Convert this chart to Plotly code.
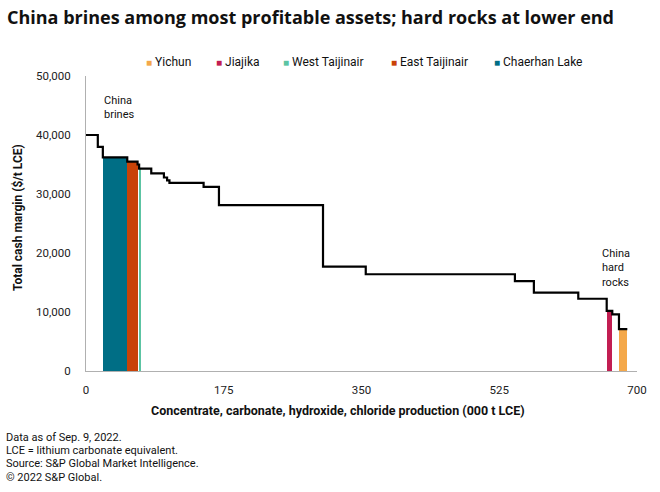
import numpy as np
import plotly.graph_objects as go

# Segment data (production width, 000 t LCE; total cash margin, $/t LCE)
widths = [15, 6.4, 31.0, 13.1, 2.0, 2.2, 13.2, 16.1, 4.0, 3.0, 43.4, 19.5,
          132.2, 54.3, 189.5, 24.1, 56.4, 36.1, 7.1, 8.5, 10.6]
margins = [40000, 38000, 36200, 35500, 35000, 34300, 34300, 33500, 32800, 32300,
           31900, 31200, 28100, 17700, 16400, 15250, 13300, 12250, 10200, 9600, 7100]
names = [None, None, "Chaerhan Lake", "East Taijinair", None, "West Taijinair",
         None, None, None, None, None, None, None, None, None, None, None, None,
         "Jiajika", None, "Yichun"]

legend_order = ["Yichun", "Jiajika", "West Taijinair", "East Taijinair", "Chaerhan Lake"]
colors = {"Yichun": "#F4A84A", "Jiajika": "#C21E52", "West Taijinair": "#5CC4A3",
          "East Taijinair": "#C94207", "Chaerhan Lake": "#006E85"}

x_ticks = [0, 175, 350, 525, 700]
y_ticks = [0, 10000, 20000, 30000, 40000, 50000]

footnotes = ["Data as of Sep. 9, 2022.", "LCE = lithium carbonate equivalent.",
             "Source: S&P Global Market Intelligence.", "© 2022 S&P Global."]

w = np.array(widths)
m = np.array(margins)
ends = np.cumsum(w)
starts = ends - w

FONT = "Roboto"
L, R, T, B = 86, 23, 76, 121
W, H = 660, 492
PW, PH = W - L - R, H - T - B


def px_x(px):
    return (px - L) / PW


def px_y(py):
    return (H - B - py) / PH


fig = go.Figure()

for nm in legend_order:
    i = names.index(nm)
    fig.add_trace(go.Bar(
        x=[starts[i] + w[i] / 2], y=[m[i]], width=[w[i]], name=nm,
        marker=dict(color=colors[nm], line=dict(width=0)),
        hoverinfo="name+y", showlegend=False))

# step line
line_x = list(starts) + [ends[-1]]
line_y = list(m) + [m[-1]]
fig.add_trace(go.Scatter(x=line_x, y=line_y, mode="lines",
                         line=dict(color="black", width=2.2, shape="hv"),
                         showlegend=False, hoverinfo="skip"))

fig.update_layout(
    width=W, height=H,
    margin=dict(l=L, r=R, t=T, b=B, autoexpand=False),
    paper_bgcolor="white", plot_bgcolor="white",
    font=dict(family=FONT, size=11, color="#222"),
    barmode="overlay", bargap=0,
    showlegend=False,
    title=dict(text="<b>China brines among most profitable assets; hard rocks at lower end</b>",
               x=7 / W, xanchor="left", y=1 - 18 / H, yanchor="middle",
               font=dict(size=18, color="#111", family="Open Sans")),
    xaxis=dict(range=[0, 700], tickvals=x_ticks, ticktext=[str(v) for v in x_ticks],
               showgrid=False, zeroline=False, showline=True, linecolor="#b0b0b0",
               linewidth=1, ticks="", ticklabelstandoff=8,
               tickfont=dict(size=11.5, color="#222")),
    yaxis=dict(range=[0, 50000], tickvals=y_ticks,
               ticktext=[f"{v:,}" for v in y_ticks],
               showgrid=False, zeroline=False, showline=True, linecolor="#b0b0b0",
               linewidth=1, ticks="", ticklabelstandoff=12,
               tickfont=dict(size=11.5, color="#222")),
)

ann = [
    dict(text="<b>Total cash margin ($/t LCE)</b>", xref="paper", yref="paper",
         x=px_x(18), y=px_y(218), textangle=-90, showarrow=False,
         xanchor="center", yanchor="middle",
         font=dict(size=12, color="#111")),
    dict(text="<b>Concentrate, carbonate, hydroxide, chloride production (000 t LCE)</b>",
         xref="paper", yref="paper", x=px_x(338), y=px_y(410),
         xanchor="center", yanchor="middle",
         showarrow=False, font=dict(size=12.5, color="#111")),
    dict(text="China<br>brines", xref="x", yref="y", x=20, y=47300,
         xanchor="left", yanchor="top", align="left", showarrow=False,
         font=dict(size=11, color="#111")),
    dict(text="China<br>hard<br>rocks", xref="x", yref="y", x=653, y=21400,
         xanchor="left", yanchor="top", align="left", showarrow=False,
         font=dict(size=11, color="#111")),
]

# footnotes, one line each
for k, txt in enumerate(footnotes):
    ann.append(dict(text=txt, xref="paper", yref="paper", x=px_x(4),
                    y=px_y(437 + 13.4 * k), xanchor="left", yanchor="middle",
                    align="left", showarrow=False, font=dict(size=11, color="#111")))

# legend row (coloured squares + names)
legend_px = [144, 214, 281, 389, 492]
for nm, lx in zip(legend_order, legend_px):
    ann.append(dict(
        text=f'<span style="color:{colors[nm]};font-size:10px">■</span> {nm}',
        xref="paper", yref="paper", x=px_x(lx), y=px_y(62),
        xanchor="left", yanchor="middle", showarrow=False,
        font=dict(size=12, color="#111")))

fig.update_layout(annotations=ann)

fig.write_html("out.html", config={"displayModeBar": False},
               post_script="document.body.style.margin='0';")
